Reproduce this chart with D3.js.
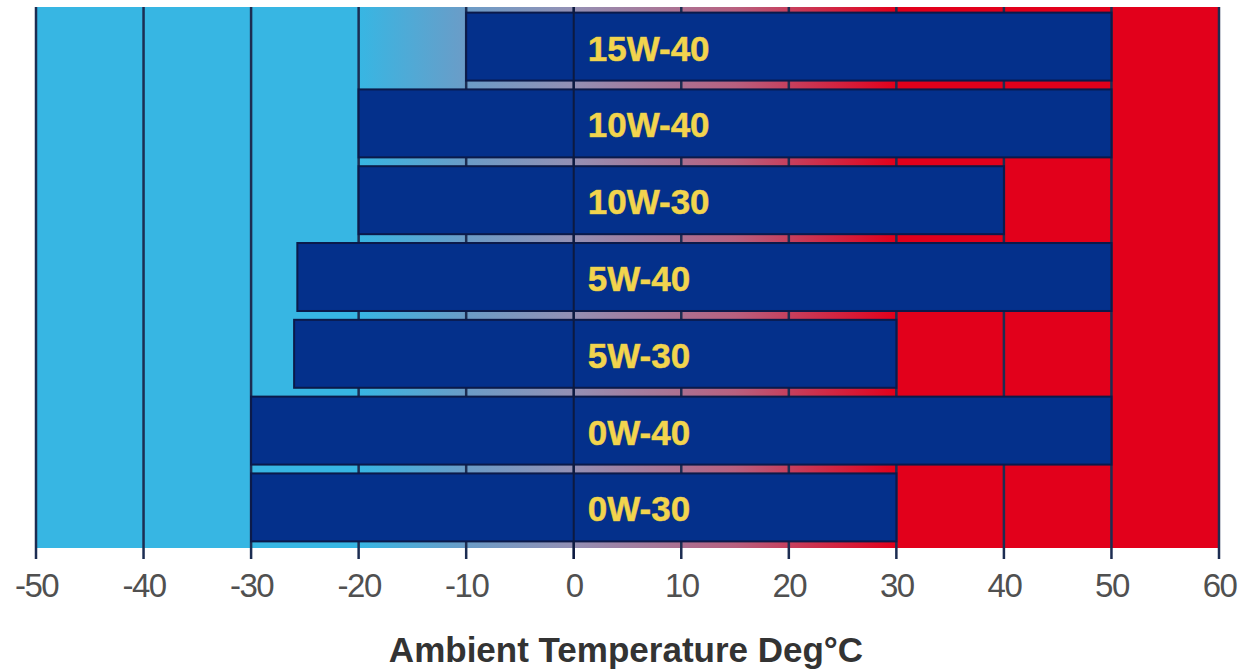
<!DOCTYPE html>
<html>

<head>
    <meta charset="UTF-8">
    <style>
        body { margin: 0; background: #fff; }
        svg { display: block; font-family: "Liberation Sans", Arial, sans-serif; }
    </style>
</head>

<body>
    <svg></svg>
    <script src="https://d3js.org/d3.v7.min.js"></script>

    <script>

        let width = 1252, height = 670;

        // oil grades, top to bottom, with the ambient temperature range each one covers
        let grades = ["15W-40", "10W-40", "10W-30", "5W-40", "5W-30", "0W-40", "0W-30"];
        let minTemp = [-10, -20, -20, -25.7, -26, -30, -30];
        let maxTemp = [50, 50, 40, 50, 30, 50, 30];
        let tickValues = [-50, -40, -30, -20, -10, 0, 10, 20, 30, 40, 50, 60];

        let plotTop = 7, plotBottom = 548;

        let svg = d3.select("svg")
            .attr("width", width)
            .attr("height", height)
            .attr("viewBox", "0 0 " + width + " " + height);

        let x = d3.scaleLinear()
            .domain([-50, 60])
            .range([36, 1219]);

        let y = d3.scaleBand()
            .domain(grades)
            .range([plotTop + 1, 546])
            .paddingInner(0.115)
            .paddingOuter(0.06);

        // background: cold blue on the left, hot red on the right
        let grad = svg.append("defs").append("linearGradient")
            .attr("id", "bg")
            .attr("gradientUnits", "userSpaceOnUse")
            .attr("x1", x(-50)).attr("x2", x(60))
            .attr("y1", 0).attr("y2", 0);
        [[-20, "#37b6e3"], [-10, "#6b9cc7"], [0, "#9490b4"], [15, "#b8607f"], [30, "#e2001b"], [60, "#e2001b"]]
            .forEach(s => {
                grad.append("stop")
                    .attr("offset", (s[0] + 50) / 110)
                    .attr("stop-color", s[1]);
            });

        svg.append("rect")
            .attr("x", x(-50))
            .attr("y", plotTop)
            .attr("width", x(60) - x(-50))
            .attr("height", plotBottom - plotTop)
            .attr("fill", "url(#bg)");

        // vertical grid lines (behind the bars) with tick marks below the plot
        svg.append("g")
            .attr("class", "grid")
            .selectAll("line")
            .data(tickValues)
            .enter()
            .append("line")
            .attr("x1", d => x(d)).attr("x2", d => x(d))
            .attr("y1", plotTop).attr("y2", plotBottom + 11)
            .attr("stroke", "#1c2d52")
            .attr("stroke-width", 2.5);

        let data = grades.map((g, i) => ({ grade: g, lo: minTemp[i], hi: maxTemp[i] }));

        svg.append("g")
            .attr("id", "bars")
            .selectAll("rect")
            .data(data)
            .enter()
            .append("rect")
            .attr("x", d => x(d.lo))
            .attr("y", d => y(d.grade))
            .attr("width", d => x(d.hi) - x(d.lo))
            .attr("height", y.bandwidth())
            .attr("fill", "#04308b")
            .attr("stroke", "#0b1a4a")
            .attr("stroke-width", 2);

        // zero line is drawn over the bars
        svg.append("line")
            .attr("x1", x(0)).attr("x2", x(0))
            .attr("y1", plotTop).attr("y2", plotBottom + 11)
            .attr("stroke", "#0d1a40")
            .attr("stroke-width", 2);

        svg.append("g")
            .attr("id", "labels")
            .selectAll("text")
            .data(data)
            .enter()
            .append("text")
            .attr("x", x(0) + 14)
            .attr("y", d => y(d.grade) + y.bandwidth() / 2 + 14)
            .attr("fill", "#f2d44e")
            .attr("font-weight", "bold")
            .attr("font-size", 35)
            .style("paint-order", "stroke")
            .attr("stroke", "#c9b84a")
            .attr("stroke-width", 0.6)
            .text(d => d.grade);

        // x axis labels
        let xAxis = d3.axisBottom(x)
            .tickValues(tickValues)
            .tickSize(0)
            .tickPadding(0)
            .tickFormat(d => String(d));

        let axisG = svg.append("g")
            .attr("transform", "translate(0," + (plotBottom + 25) + ")")
            .call(xAxis);
        axisG.select(".domain").remove();
        axisG.selectAll("text")
            .attr("font-size", 33)
            .attr("font-family", "Liberation Sans, Arial, sans-serif")
            .attr("fill", "#505050")
            .attr("letter-spacing", -1.5)
            .attr("dy", "0.72em");

        svg.append("text")
            .attr("x", 626)
            .attr("y", 662)
            .attr("text-anchor", "middle")
            .attr("font-weight", "bold")
            .attr("font-size", 35)
            .attr("fill", "#333")
            .text("Ambient Temperature Deg°C");

    </script>

</body>

</html>
